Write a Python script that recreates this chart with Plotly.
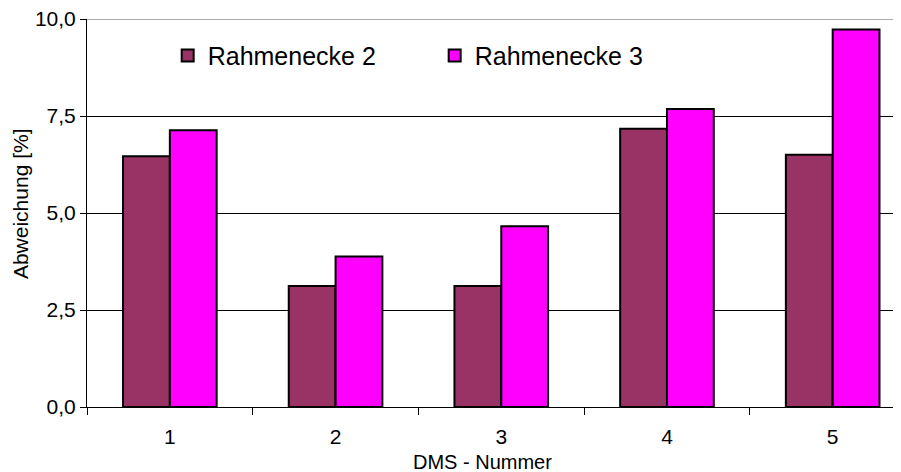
import plotly.graph_objects as go

categories = ["1", "2", "3", "4", "5"]
rahmenecke2 = [6.46, 3.12, 3.12, 7.17, 6.50]
rahmenecke3 = [7.13, 3.88, 4.66, 7.68, 9.73]
y_ticks = [0, 2.5, 5.0, 7.5, 10.0]

FONT = "Liberation Sans, Arial, sans-serif"

fig = go.Figure()
fig.add_trace(go.Bar(
    name="Rahmenecke 2", x=categories, y=rahmenecke2,
    marker=dict(color="#993366", line=dict(color="black", width=2)),
))
fig.add_trace(go.Bar(
    name="Rahmenecke 3", x=categories, y=rahmenecke3,
    marker=dict(color="#FF00FF", line=dict(color="black", width=2)),
))

fig.update_layout(
    width=885, height=464,
    margin=dict(l=79, r=0, t=11, b=65),
    paper_bgcolor="white", plot_bgcolor="white",
    barmode="group", bargap=0.435, bargroupgap=0,
    separators=",.",
    font=dict(family=FONT, color="black", size=20),
    showlegend=True,
    legend=dict(
        orientation="h", x=0.1001, xanchor="left", y=0.905, yanchor="middle",
        font=dict(size=25, family=FONT), bgcolor="rgba(0,0,0,0)",
        entrywidth=222, entrywidthmode="pixels", itemsizing="constant",
    ),
    xaxis=dict(
        type="category", range=[-0.5, 4.364], automargin=False,
        showline=True, linecolor="black", linewidth=1,
        ticks="outside", tickson="boundaries", ticklen=7, tickcolor="black",
        ticklabelstandoff=11,
        showgrid=False,
        tickfont=dict(size=21, family=FONT),
    ),
    yaxis=dict(
        range=[0, 10], tickvals=y_ticks, tickformat=".1f", automargin=False,
        ticksuffix="\u00a0", ticklabeloverflow="allow",
        showline=True, linecolor="black", linewidth=1,
        ticks="outside", ticklen=6, tickcolor="black",
        showgrid=True, gridcolor="black", gridwidth=1,
        zeroline=False,
        tickfont=dict(size=21, family=FONT),
    ),
    shapes=[dict(
        type="line", xref="paper", yref="y", x0=0, x1=1,
        y0=y_ticks[-1], y1=y_ticks[-1],
        line=dict(color="#555555", width=1), layer="below",
    )],
    annotations=[
        dict(
            text="Abweichung [%]", xref="paper", yref="paper",
            x=0, y=0.523, xshift=-67, xanchor="center", yanchor="middle",
            textangle=-90, showarrow=False, font=dict(size=21, family=FONT),
        ),
        dict(
            text="DMS - Nummer", xref="paper", yref="paper",
            x=0.491, y=0, yshift=-55, xanchor="center", yanchor="middle",
            showarrow=False, font=dict(size=20, family=FONT),
        ),
    ],
)

fig.write_html("out.html")
